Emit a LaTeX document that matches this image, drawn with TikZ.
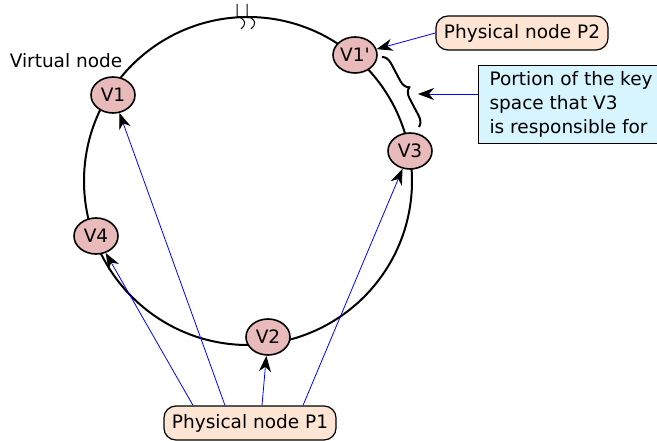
\documentclass[tikz,border=0pt]{standalone}
\usepackage{fontspec}
\setmainfont{DejaVu Sans}
\usetikzlibrary{arrows.meta,shapes.geometric,decorations.pathreplacing}
\definecolor{vnodefill}{RGB}{232,186,186}
\definecolor{pnodefill}{RGB}{253,228,211}
\definecolor{notefill}{RGB}{214,245,255}
\tikzset{
  vnode/.style={ellipse,draw=black,line width=1.6pt,fill=vnodefill,
    minimum width=44pt,minimum height=36pt,inner sep=0pt},
  pnode/.style={rounded corners=12pt,draw=black,line width=1.2pt,fill=pnodefill,
    minimum height=34pt,inner xsep=8pt},
  note/.style={draw=black,line width=1.2pt,fill=notefill,align=left,
    inner xsep=10pt,inner ysep=6pt,minimum width=185pt,
    font=\fontsize{18.5}{24}\selectfont},
  link/.style={blue,line width=0.8pt,-{Stealth[black,length=16pt,width=12pt,inset=5pt]}},
}
\begin{document}
\begin{tikzpicture}[x=1pt,y=-1pt,font=\fontsize{18.5}{22}\selectfont]
 \useasboundingbox (0,0) rectangle (657,441);
 % the ring
 \draw [black,line width=2pt] (248,181) circle [radius=164pt];
 % break marks on top
 \draw [black,line width=1pt] (237,4) -- (237,16) .. controls (247,20) and (246,25) .. (241,29);
 \draw [black,line width=1pt] (247,4) -- (247,16) .. controls (257,20) and (256,25) .. (251,29);
 % virtual nodes
 \node [vnode] (v1) at (113,95) {V1};
 \node [vnode] (v1p) at (355,55) {V1\textquotesingle};
 \node [vnode] (v3) at (410,151) {V3};
 \node [vnode] (v4) at (96,236) {V4};
 \node [vnode] (v2) at (268,337) {V2};
 \node (vlabel) at (66,61) {Virtual node};
 % physical nodes
 \node [pnode] (p1) at (250,423) {Physical node P1};
 \node [pnode] (p2) at (522,33) {Physical node P2};
 \node [note,anchor=north west] (keyspace) at (478,65) {Portion of the key\\space that V3\\is responsible for};
 % key range of V3
 \draw [black,line width=2pt,decorate,decoration={brace,amplitude=10pt}]
   (382,57) -- (419,127);
 \coordinate (bracetip) at (418,94);
 % links
 \draw [link] ([xshift=-57pt]p1.north) -- (v4);
 \draw [link] ([xshift=-25pt]p1.north) -- (v1);
 \draw [link] ([xshift=12pt]p1.north) -- (v2);
 \draw [link] ([xshift=53pt]p1.north) -- (v3);
 \draw [link] (p2.west) -- (v1p);
 \draw [link] (keyspace.west |- bracetip) -- (bracetip);
\end{tikzpicture}
\end{document}
